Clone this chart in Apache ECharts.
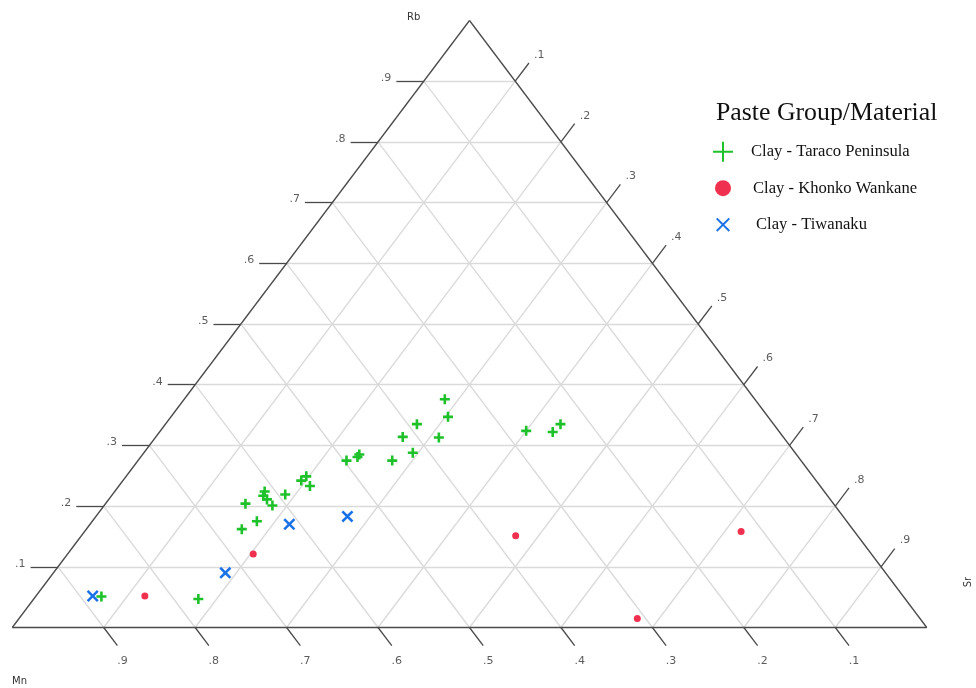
<!DOCTYPE html>
<html>
<head>
<meta charset="utf-8">
<script src="https://cdn.jsdelivr.net/npm/echarts@6/dist/echarts.min.js"></script>
<style>
html, body { margin: 0; padding: 0; background: #fff; }
#chart { width: 976px; height: 688px; }
</style>
</head>
<body>
<div id="chart"></div>
<script>
// Element proportions of each sample, as [Mn, Sr, Rb] fractions.
const taracoPeninsula = [
  [0.878, 0.072, 0.051],
  [0.773, 0.180, 0.047],
  [0.667, 0.170, 0.162],
  [0.645, 0.180, 0.175],
  [0.643, 0.153, 0.204],
  [0.612, 0.164, 0.224],
  [0.617, 0.166, 0.217],
  [0.616, 0.173, 0.211],
  [0.615, 0.184, 0.201],
  [0.591, 0.189, 0.219],
  [0.563, 0.195, 0.242],
  [0.554, 0.197, 0.249],
  [0.558, 0.209, 0.233],
  [0.497, 0.228, 0.275],
  [0.482, 0.237, 0.281],
  [0.478, 0.237, 0.285],
  [0.447, 0.278, 0.275],
  [0.418, 0.294, 0.288],
  [0.416, 0.270, 0.314],
  [0.390, 0.275, 0.335],
  [0.377, 0.310, 0.313],
  [0.350, 0.303, 0.347],
  [0.339, 0.285, 0.376],
  [0.276, 0.400, 0.324],
  [0.248, 0.430, 0.322],
  [0.233, 0.432, 0.335]
];
const khonkoWankane = [
  [0.829, 0.119, 0.052],
  [0.676, 0.203, 0.121],
  [0.374, 0.475, 0.151],
  [0.124, 0.718, 0.158],
  [0.309, 0.676, 0.015]
];
const tiwanaku = [
  [0.886, 0.062, 0.052],
  [0.722, 0.188, 0.090],
  [0.612, 0.218, 0.170],
  [0.542, 0.275, 0.183]
];

const gridSteps = [0.1, 0.2, 0.3, 0.4, 0.5, 0.6, 0.7, 0.8, 0.9];
const tickLabels = ['.1', '.2', '.3', '.4', '.5', '.6', '.7', '.8', '.9'];
const seriesNames = ['Clay - Taraco Peninsula', 'Clay - Khonko Wankane', 'Clay - Tiwanaku'];
const cornerNames = ['Mn', 'Sr', 'Rb'];

const TICK = 0.03; // tick length, in composition units

// Ternary composition -> plane position (Rb at the apex, Mn bottom-left, Sr bottom-right)
function toXY(mn, sr, rb) {
  return [sr + rb / 2, rb];
}
function seg(a, b) {
  return { coords: [toXY(a[0], a[1], a[2]), toXY(b[0], b[1], b[2])] };
}

// Triangle outline
const frame = [
  seg([1, 0, 0], [0, 1, 0]),
  seg([0, 1, 0], [0, 0, 1]),
  seg([0, 0, 1], [1, 0, 0])
];

// Inner grid: constant Rb, Sr and Mn lines
const gridLines = [];
gridSteps.forEach(k => {
  gridLines.push(seg([1 - k, 0, k], [0, 1 - k, k]));
  gridLines.push(seg([1 - k, k, 0], [0, k, 1 - k]));
  gridLines.push(seg([k, 1 - k, 0], [k, 0, 1 - k]));
});

// Outside ticks and their label anchors
const ticks = [];
const rbLabels = [], srLabels = [], mnLabels = [];
gridSteps.forEach((k, i) => {
  const rbEnd = [1 - k + TICK, -TICK, k];
  ticks.push(seg([1 - k, 0, k], rbEnd));
  rbLabels.push({ name: tickLabels[i], value: toXY(rbEnd[0], rbEnd[1], rbEnd[2]) });

  const srEnd = [-TICK, k, 1 - k + TICK];
  ticks.push(seg([0, k, 1 - k], srEnd));
  srLabels.push({ name: tickLabels[i], value: toXY(srEnd[0], srEnd[1], srEnd[2]) });

  const mnEnd = [k, 1 - k + TICK, -TICK];
  ticks.push(seg([k, 1 - k, 0], mnEnd));
  mnLabels.push({ name: tickLabels[i], value: toXY(mnEnd[0], mnEnd[1], mnEnd[2]) });
});

const toPoints = arr => arr.map(p => toXY(p[0], p[1], p[2]));

const plusSymbol = 'path://M0,3.7H3.7V0H6.3V3.7H10V6.3H6.3V10H3.7V6.3H0Z';
const crossSymbol = 'path://M0,1.5L1.5,0L5,3.5L8.5,0L10,1.5L6.5,5L10,8.5L8.5,10L5,6.5L1.5,10L0,8.5L3.5,5Z';
const plusIcon = 'path://M9,0H11V9H20V11H11V20H9V11H0V9H9Z';
const dotIcon = 'path://M0,0M20,20M2,10A8,8,0,1,0,18,10A8,8,0,1,0,2,10Z';
const crossIcon = 'path://M0,0M20,20M3,4.4L4.4,3L10,8.6L15.6,3L17,4.4L11.4,10L17,15.6L15.6,17L10,11.4L4.4,17L3,15.6L8.6,10Z';

const GREEN = '#1fc12b';
const RED = '#f0304f';
const BLUE = '#1b72e6';
const EDGE = '#4a4a4a';
const tickFont = { fontFamily: 'DejaVu Sans', fontSize: 11, color: '#333' };

function labelSeries(data, align, offset) {
  return {
    type: 'scatter',
    data: data,
    symbolSize: 1,
    itemStyle: { color: 'transparent' },
    silent: true,
    clip: false,
    label: Object.assign({
      show: true, position: 'inside', formatter: '{b}',
      align: align, verticalAlign: 'middle', offset: offset
    }, tickFont),
    z: 3
  };
}

const chart = echarts.init(document.getElementById('chart'), null, { renderer: 'canvas' });
chart.setOption({
  animation: false,
  backgroundColor: '#fff',
  grid: { left: 12.25, right: 49.25, top: 20.5, bottom: 60.5 },
  xAxis: { type: 'value', min: 0, max: 1, show: false },
  yAxis: { type: 'value', min: 0, max: 1, show: false },
  title: {
    text: 'Paste Group/Material',
    left: 716, top: 100, padding: 0,
    textStyle: { fontFamily: 'Liberation Serif', fontSize: 25.8, fontWeight: 'normal', color: '#111' }
  },
  legend: {
    orient: 'vertical', left: 713, top: 141.7, padding: 0,
    itemWidth: 20, itemHeight: 20, itemGap: 16.5,
    selectedMode: false,
    textStyle: { fontFamily: 'Liberation Serif', fontSize: 16.6, color: '#111' },
    data: [
      { name: seriesNames[0], icon: plusIcon, textStyle: { padding: [0, 0, 0, 13] } },
      { name: seriesNames[1], icon: dotIcon, textStyle: { padding: [0, 0, 0, 15] } },
      { name: seriesNames[2], icon: crossIcon, textStyle: { padding: [0, 0, 0, 18] } }
    ]
  },
  graphic: [
    { type: 'text', left: 407, top: 12, style: { text: cornerNames[2], font: '10px "DejaVu Sans"', fill: '#333' } },
    { type: 'text', left: 12, top: 676, style: { text: cornerNames[0], font: '10px "DejaVu Sans"', fill: '#333' } },
    { type: 'text', x: 968, y: 582, rotation: Math.PI / 2,
      style: { text: cornerNames[1], font: '10px "DejaVu Sans"', fill: '#333', align: 'center', verticalAlign: 'middle' } }
  ],
  series: [
    {
      type: 'lines', coordinateSystem: 'cartesian2d', data: gridLines, silent: true, clip: false,
      lineStyle: { color: '#dadada', width: 1.3, opacity: 1 }, z: 1
    },
    {
      type: 'lines', coordinateSystem: 'cartesian2d', data: frame.concat(ticks), silent: true, clip: false,
      lineStyle: { color: EDGE, width: 1.3, opacity: 1 }, z: 2
    },
    labelSeries(rbLabels, 'right', [-5, -3]),
    labelSeries(srLabels, 'left', [5, -8]),
    labelSeries(mnLabels, 'center', [5, 15]),
    {
      name: seriesNames[2], type: 'scatter', data: toPoints(tiwanaku),
      symbol: crossSymbol, symbolSize: 12, itemStyle: { color: BLUE, opacity: 1 }, z: 4
    },
    {
      name: seriesNames[1], type: 'scatter', data: toPoints(khonkoWankane),
      symbol: 'circle', symbolSize: 7, itemStyle: { color: RED, opacity: 1 }, z: 4
    },
    {
      name: seriesNames[0], type: 'scatter', data: toPoints(taracoPeninsula),
      symbol: plusSymbol, symbolSize: 10, itemStyle: { color: GREEN, opacity: 1 }, z: 5
    }
  ]
});
</script>
</body>
</html>
